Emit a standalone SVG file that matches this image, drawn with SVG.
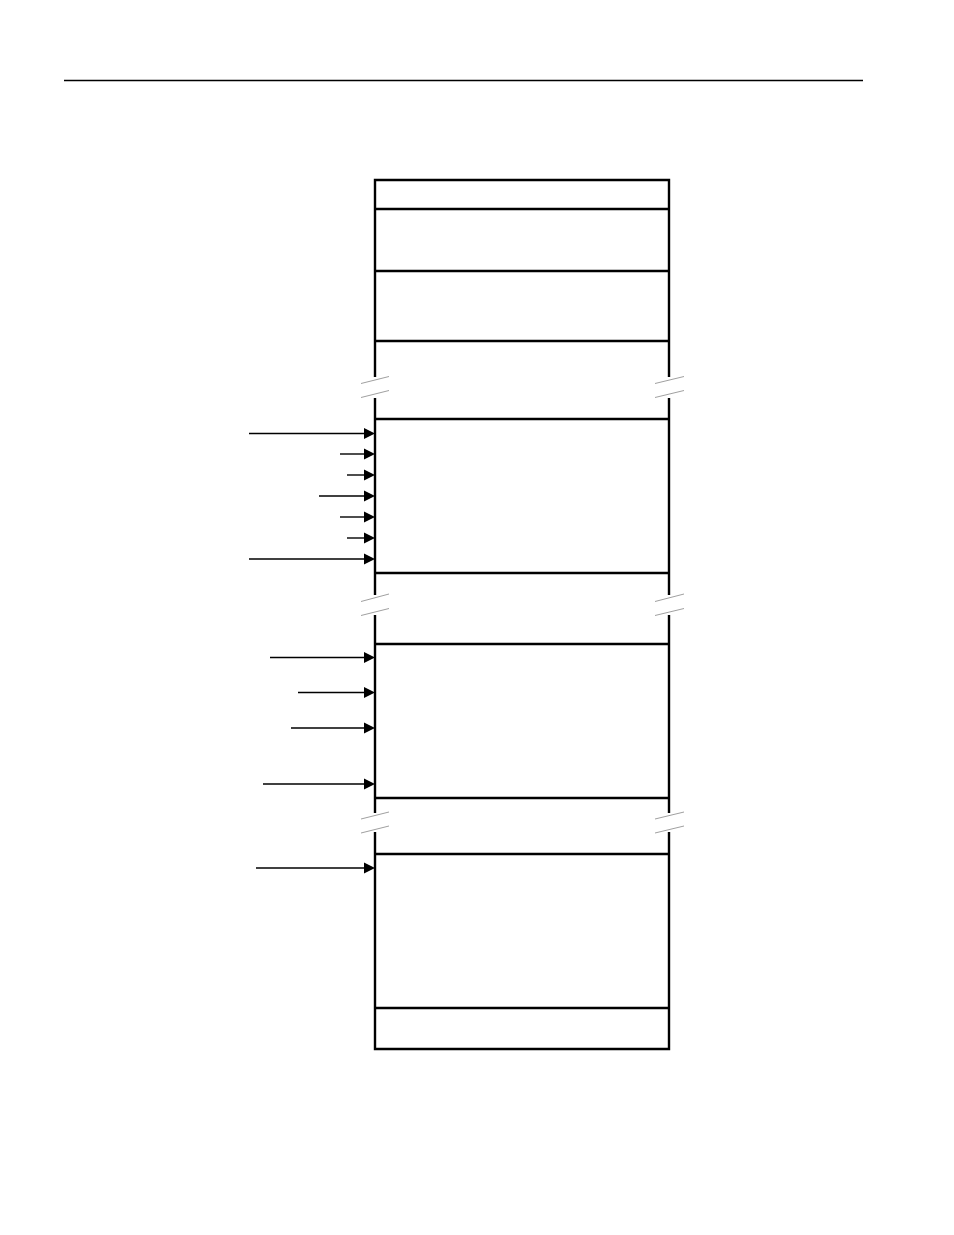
<svg xmlns="http://www.w3.org/2000/svg" width="954" height="1235" viewBox="0 0 954 1235">
<style>
.frame{fill:none;stroke:#000;stroke-width:2.4}
.div{stroke:#000;stroke-width:2.4}
.brk{stroke:#a0a0a0;stroke-width:1}
.conn{stroke:#000;stroke-width:1.4;fill:none}
.head{fill:#000}
</style>
<defs>
<path id="ah" d="M-11,-5.5 L0,0 L-11,5.5 Z"/>
</defs>
<rect width="954" height="1235" fill="#fff"/>
<line x1="64" y1="80.5" x2="863" y2="80.5" stroke="#000" stroke-width="1.4"/>
<g id="stack">
<path class="frame" d="M375,377 V180 H669 V377 M375,398 V595 M669,398 V595 M375,615 V813 M669,615 V813 M375,832 V1049 H669 V832"/>
</g>
<g id="row1"><line class="div" x1="375" y1="209" x2="669" y2="209"/></g>
<g id="row2"><line class="div" x1="375" y1="271" x2="669" y2="271"/></g>
<g id="row3"><line class="div" x1="375" y1="341" x2="669" y2="341"/></g>
<g id="row4"><line class="div" x1="375" y1="419" x2="669" y2="419"/></g>
<g id="row5"><line class="div" x1="375" y1="573" x2="669" y2="573"/></g>
<g id="row6"><line class="div" x1="375" y1="644" x2="669" y2="644"/></g>
<g id="row7"><line class="div" x1="375" y1="798" x2="669" y2="798"/></g>
<g id="row8"><line class="div" x1="375" y1="854" x2="669" y2="854"/></g>
<g id="row9"><line class="div" x1="375" y1="1008" x2="669" y2="1008"/></g>
<g id="breaks">
<line class="brk" x1="361" y1="383.5" x2="389" y2="376.5"/>
<line class="brk" x1="361" y1="397.5" x2="389" y2="390.5"/>
<line class="brk" x1="655" y1="383.5" x2="684" y2="376.5"/>
<line class="brk" x1="655" y1="397.5" x2="684" y2="390.5"/>
<line class="brk" x1="361" y1="601.5" x2="389" y2="594"/>
<line class="brk" x1="361" y1="615.5" x2="389" y2="608.5"/>
<line class="brk" x1="655" y1="601.5" x2="684" y2="594"/>
<line class="brk" x1="655" y1="615.5" x2="684" y2="608.5"/>
<line class="brk" x1="361" y1="819" x2="389" y2="812"/>
<line class="brk" x1="361" y1="833" x2="389" y2="826"/>
<line class="brk" x1="655" y1="819" x2="684" y2="812"/>
<line class="brk" x1="655" y1="833" x2="684" y2="826"/>
</g>
<g id="connectors">
<line class="conn" x1="249" y1="433.5" x2="366" y2="433.5"/>
<line class="conn" x1="340" y1="454" x2="366" y2="454"/>
<line class="conn" x1="347" y1="475" x2="366" y2="475"/>
<line class="conn" x1="319" y1="496" x2="366" y2="496"/>
<line class="conn" x1="340" y1="517" x2="366" y2="517"/>
<line class="conn" x1="347" y1="538" x2="366" y2="538"/>
<line class="conn" x1="249" y1="559" x2="366" y2="559"/>
<line class="conn" x1="270" y1="657.5" x2="366" y2="657.5"/>
<line class="conn" x1="298" y1="692.5" x2="366" y2="692.5"/>
<line class="conn" x1="291" y1="728" x2="366" y2="728"/>
<line class="conn" x1="263" y1="784" x2="366" y2="784"/>
<line class="conn" x1="256" y1="868" x2="366" y2="868"/>
<use href="#ah" class="head" x="375" y="433.5"/>
<use href="#ah" class="head" x="375" y="454"/>
<use href="#ah" class="head" x="375" y="475"/>
<use href="#ah" class="head" x="375" y="496"/>
<use href="#ah" class="head" x="375" y="517"/>
<use href="#ah" class="head" x="375" y="538"/>
<use href="#ah" class="head" x="375" y="559"/>
<use href="#ah" class="head" x="375" y="657.5"/>
<use href="#ah" class="head" x="375" y="692.5"/>
<use href="#ah" class="head" x="375" y="728"/>
<use href="#ah" class="head" x="375" y="784"/>
<use href="#ah" class="head" x="375" y="868"/>
</g>
</svg>
